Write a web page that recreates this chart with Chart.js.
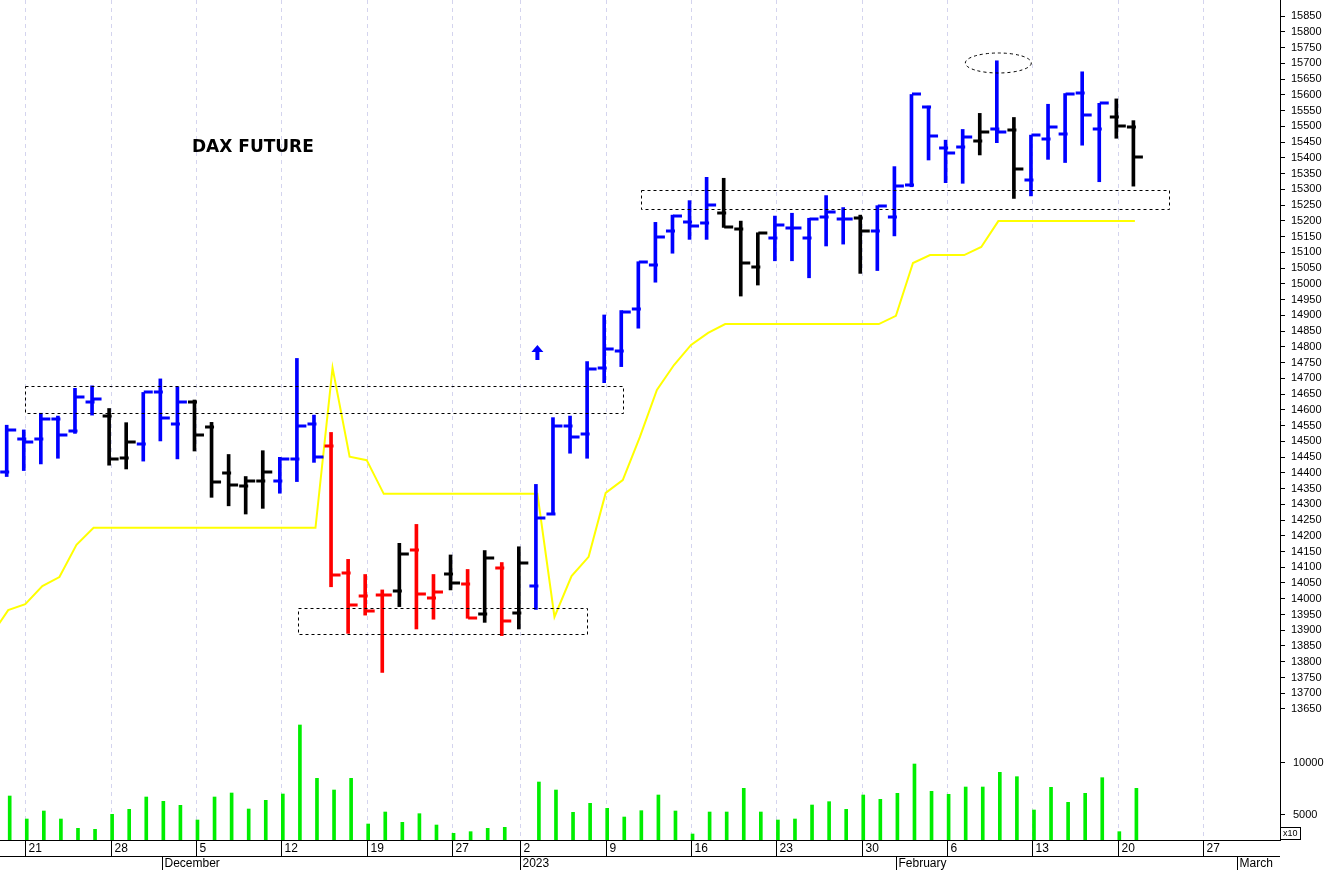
<!DOCTYPE html>
<html>
<head>
<meta charset="utf-8">
<script src="https://cdn.jsdelivr.net/npm/chart.js@4"></script>
<style>
  body { margin: 0; background: #fff; }
  #wrap { width: 1328px; height: 870px; position: relative; }
</style>
</head>
<body>
<div id="wrap"><canvas id="chart"></canvas></div>
<script>
// trading day index: 0 = Nov 21 2022, first bar is index -1 (Nov 18)
const firstIndex = -1;
const opens  = [14403,14506,14506,14570,14534,14626,14581,14446,14490,14657,14554,14626,14546,14398,14359,14374,14375,14444,14554,14485,14081,14009,14013,14025,14155,14001,14077,14046,13950,14099,13956,14040,14268,14548,14522,14732,14785,14920,15060,15169,15195,15194,15226,15173,15054,15144,15178,15146,15211,15206,15210,15168,15213,15313,15562,15432,15435,15453,15490,15488,15329,15459,15477,15607,15493,15528,15497];
const highs  = [14551,14536,14589,14580,14668,14676,14604,14559,14655,14698,14673,14631,14560,14458,14388,14470,14449,14763,14583,14528,14125,14077,14028,14176,14236,14077,14139,14093,14153,14115,14165,14363,14575,14580,14753,14901,14915,15070,15195,15218,15264,15338,15335,15199,15162,15215,15224,15208,15280,15242,15218,15248,15372,15601,15564,15456,15490,15541,15708,15528,15472,15570,15604,15673,15573,15587,15518];
const lows   = [14388,14407,14428,14446,14525,14583,14424,14412,14437,14501,14444,14469,14322,14295,14269,14287,14335,14372,14433,14038,13890,13948,13766,13975,13904,13935,14028,13938,13925,13883,13904,13966,14268,14462,14446,14686,14737,14859,15005,15097,15141,15141,15179,14961,14996,15073,15073,15019,15120,15126,15033,15042,15152,15308,15393,15321,15319,15409,15448,15271,15279,15395,15385,15440,15324,15462,15310];
const closes = [14536,14497,14570,14520,14641,14633,14443,14499,14655,14573,14626,14520,14372,14361,14374,14403,14444,14549,14451,14075,13980,13961,14013,14142,14014,14022,14049,13938,14128,13930,14112,14257,14548,14512,14731,14792,14911,15070,15147,15216,15185,15250,15179,15065,15160,15187,15176,15206,15229,15206,15168,15247,15310,15601,15469,15414,15467,15483,15483,15364,15472,15499,15602,15535,15573,15501,15403];
const signals = ['u','u','u','u','u','u','n','n','u','u','u','n','n','n','n','n','u','u','u','d','d','d','d','n','d','d','n','d','n','d','n','u','u','u','u','u','u','u','u','u','u','u','n','n','n','u','u','u','u','u','n','u','u','u','u','u','u','n','u','n','u','u','u','u','u','n','n'];
const volumes = [6739,4552,5313,4552,3665,3570,4996,5471,6644,6232,5851,4457,6644,7024,5503,6327,6929,13489,8418,7309,8418,4077,5218,4235,5059,3982,3190,3348,3665,3760,null,8070,7309,5186,6042,5566,4742,5344,6834,5313,3126,5218,5218,7468,5218,4457,4552,5883,6200,5471,6834,6422,6992,9781,7182,6897,7594,7594,8989,8577,5408,7563,6137,6992,8482,3348,7468];
// stop line starts one day earlier (index -2)
const stops = [13883,13964,13983,14040,14069,14171,14225,14225,14225,14225,14225,14225,14225,14225,14225,14225,14225,14225,14225,14225,14733,14451,14440,14333,14333,14333,14333,14333,14333,14333,14333,14333,14333,13942,14072,14133,14336,14377,14513,14663,14742,14806,14844,14872,14872,14872,14872,14872,14872,14872,14872,14872,14872,14898,15066,15091,15091,15091,15117,15199,15199,15199,15199,15199,15199,15199,15199,15199];
const priceTicks = [];
for (let p = 13650; p <= 15850; p += 50) priceTicks.push(p);
const volumeTicks = [5000, 10000];
const dayTicks = [[0,'21'],[5,'28'],[10,'5'],[15,'12'],[20,'19'],[25,'27'],[29,'2'],[34,'9'],[39,'16'],[44,'23'],[49,'30'],[54,'6'],[59,'13'],[64,'20'],[69,'27']];
const monthTicks = [[8,'December'],[29,'2023'],[51,'February'],[71,'March']];

const signalColor = { u: '#0000ff', n: '#000000', d: '#ff0000' };
const idx = opens.map((_, i) => i + firstIndex);
const FONT = '"Liberation Sans", Arial, sans-serif';

const ohlcTicks = {
  id: 'ohlcTicks',
  afterDatasetsDraw(chart) {
    const { ctx, scales: { x, yp } } = chart;
    ctx.save();
    ctx.lineWidth = 3;
    idx.forEach((d, i) => {
      const px = x.getPixelForValue(d);
      ctx.strokeStyle = signalColor[signals[i]];
      ctx.beginPath();
      ctx.moveTo(px - 8, Math.round(yp.getPixelForValue(opens[i])));
      ctx.lineTo(px + 1, Math.round(yp.getPixelForValue(opens[i])));
      ctx.moveTo(px - 1, Math.round(yp.getPixelForValue(closes[i])));
      ctx.lineTo(px + 8, Math.round(yp.getPixelForValue(closes[i])));
      ctx.stroke();
    });
    ctx.restore();
  }
};

const decor = {
  id: 'decor',
  beforeDatasetsDraw(chart) {
    const { ctx, chartArea: a, scales: { x } } = chart;
    ctx.save();
    ctx.strokeStyle = '#d4d4ee';
    ctx.lineWidth = 1;
    ctx.setLineDash([4, 4]);
    dayTicks.forEach(([d]) => {
      const px = Math.round(x.getPixelForValue(d)) + 0.5;
      ctx.beginPath(); ctx.moveTo(px, a.top); ctx.lineTo(px, a.bottom); ctx.stroke();
    });
    ctx.restore();
  },
  afterDraw(chart) {
    const { ctx, chartArea: a, scales: { x, yp, yv } } = chart;
    ctx.save();
    // dashed boxes
    ctx.strokeStyle = '#000';
    ctx.lineWidth = 1;
    ctx.setLineDash([3, 3]);
    [[0, 35, 14675, 14590], [16, 32.9, 13971, 13888], [36.05, 67, 15298, 15237]].forEach(([x0, x1, p0, p1]) => {
      const l = Math.round(x.getPixelForValue(x0)) + 0.5, r = Math.round(x.getPixelForValue(x1)) + 0.5;
      const t = Math.round(yp.getPixelForValue(p0)) + 0.5, b = Math.round(yp.getPixelForValue(p1)) + 0.5;
      ctx.strokeRect(l, t, r - l, b - t);
    });
    ctx.beginPath();
    ctx.ellipse(x.getPixelForValue(57), yp.getPixelForValue(15701), 33, 10, 0, 0, Math.PI * 2);
    ctx.stroke();
    ctx.setLineDash([]);
    // arrow
    const ax = x.getPixelForValue(30), at = yp.getPixelForValue(14806), ab = yp.getPixelForValue(14758);
    ctx.fillStyle = '#0000ff';
    ctx.beginPath();
    ctx.moveTo(ax, at); ctx.lineTo(ax + 6, at + 7); ctx.lineTo(ax + 2, at + 7); ctx.lineTo(ax + 2, ab);
    ctx.lineTo(ax - 2, ab); ctx.lineTo(ax - 2, at + 7); ctx.lineTo(ax - 6, at + 7); ctx.closePath(); ctx.fill();
    // title
    ctx.fillStyle = '#000';
    ctx.font = 'bold 17px "DejaVu Sans", ' + FONT;
    ctx.textBaseline = 'alphabetic';
    ctx.fillText('DAX FUTURE', 192, 152);
    // volume labels
    ctx.font = '11px ' + FONT;
    ctx.textBaseline = 'middle';
    volumeTicks.forEach(v => {
      const py = Math.round(yv.getPixelForValue(v)) + 0.5;
      ctx.beginPath(); ctx.moveTo(a.right, py); ctx.lineTo(a.right + 5, py); ctx.stroke();
      ctx.fillText(String(v), a.right + 13, py);
    });
    ctx.strokeRect(a.right + 0.5, a.bottom - 12.5, 20, 12);
    ctx.font = '9px ' + FONT;
    ctx.fillText('x10', a.right + 3, a.bottom - 6);
    // date axis
    ctx.lineWidth = 1;
    ctx.beginPath();
    ctx.moveTo(0, a.bottom + 0.5); ctx.lineTo(a.right, a.bottom + 0.5);
    ctx.moveTo(0, a.bottom + 16.5); ctx.lineTo(a.right, a.bottom + 16.5);
    ctx.stroke();
    ctx.font = '12px ' + FONT;
    ctx.textBaseline = 'middle';
    dayTicks.forEach(([d, t]) => {
      const px = Math.round(x.getPixelForValue(d)) + 0.5;
      ctx.beginPath(); ctx.moveTo(px, a.bottom); ctx.lineTo(px, a.bottom + 16); ctx.stroke();
      ctx.fillText(t, px + 3, a.bottom + 9);
    });
    monthTicks.forEach(([d, t]) => {
      const px = Math.round(x.getPixelForValue(d)) + 0.5;
      ctx.beginPath(); ctx.moveTo(px, a.bottom + 16); ctx.lineTo(px, a.bottom + 30); ctx.stroke();
      ctx.fillText(t, px + 2, a.bottom + 24);
    });
    ctx.restore();
  }
};

new Chart(document.getElementById('chart'), {
  data: {
    datasets: [
      {
        type: 'bar',
        data: idx.map((d, i) => ({ x: d, y: [lows[i], highs[i]] })),
        backgroundColor: idx.map((_, i) => signalColor[signals[i]]),
        barThickness: 3,
        xAxisID: 'x', yAxisID: 'yp'
      },
      {
        type: 'bar',
        data: idx.map((d, i) => ({ x: d, y: volumes[i] })),
        backgroundColor: '#00ee00',
        barThickness: 3,
        xAxisID: 'x', yAxisID: 'yv'
      },
      {
        type: 'line',
        data: stops.map((v, i) => ({ x: i + firstIndex - 1, y: v })),
        borderColor: '#ffff00',
        borderWidth: 2,
        pointRadius: 0,
        tension: 0,
        xAxisID: 'x', yAxisID: 'yp'
      }
    ]
  },
  options: {
    responsive: true,
    maintainAspectRatio: false,
    animation: false,
    layout: { padding: { left: 0, right: 0, top: 0, bottom: 30 } },
    plugins: { legend: { display: false }, tooltip: { enabled: false } },
    scales: {
      x: { type: 'linear', min: -1.48, max: 73.5, offset: false, display: false },
      yp: {
        type: 'linear', position: 'right', min: 13234, max: 15901,
        afterBuildTicks: s => { s.ticks = priceTicks.map(v => ({ value: v })); },
        afterFit: s => { s.width = 48; s.paddingTop = 0; s.paddingBottom = 0; },
        grid: { drawOnChartArea: false, tickLength: 5, color: '#000' },
        border: { color: '#000' },
        ticks: { color: '#000', font: { size: 11, family: FONT }, padding: 6, autoSkip: false, callback: v => String(v) }
      },
      yv: { type: 'linear', display: false, min: 2557, max: 82407 }
    }
  },
  plugins: [decor, ohlcTicks]
});
</script>
</body>
</html>
